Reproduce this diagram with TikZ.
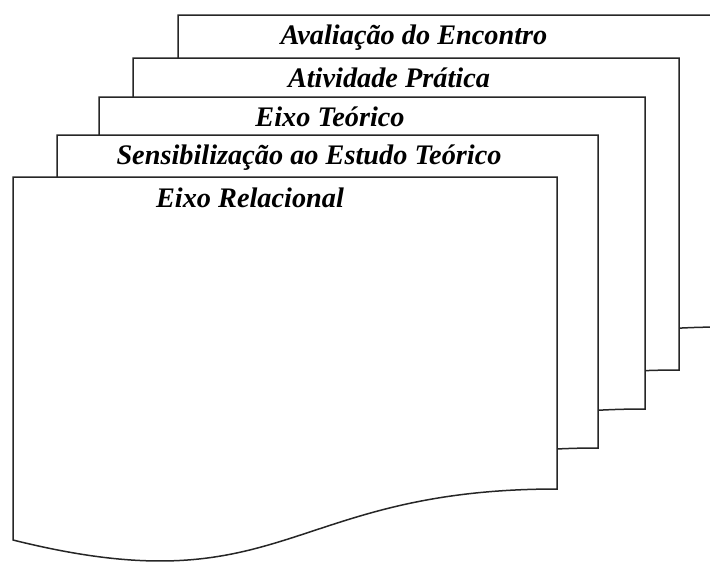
\documentclass[tikz,border=0pt]{standalone}
\usepackage{fontspec}
\setmainfont{Liberation Serif}
\usepackage{tikz}
\usetikzlibrary{calc}

\tikzset{
  folha/.style={draw=black!85,fill=white,line width=1.5pt,line join=miter},
  titulo/.style={anchor=base,inner sep=0pt,font=\fontsize{28.3}{30}\selectfont\bfseries\itshape}
}

\begin{document}
\begin{tikzpicture}[x=1pt,y=-1pt]

\useasboundingbox (0,0) rectangle (710,563);

% folhas, de tras para a frente
\draw[folha] (178,15) -- (724,15) -- (724,327) .. controls (451,327) and (451,446) .. (178,378) -- cycle;
\draw[folha] (133,58) -- (679,58) -- (679,370) .. controls (406,370) and (406,489) .. (133,421) -- cycle;
\draw[folha] (99,97) -- (645,97) -- (645,409) .. controls (372,409) and (372,528) .. (99,460) -- cycle;
\draw[folha] (57,135) -- (598,135) -- (598,448) .. controls (328,448) and (328,567) .. (57,498) -- cycle;
\draw[folha] (13,177) -- (557,177) -- (557,489) .. controls (285,489) and (285,608) .. (13,540) -- cycle;

  \node[titulo] (aval) at (414,44) {Avaliação do Encontro};
  \node[titulo] (ativ) at (389,87) {Atividade Prática};
  \node[titulo] (teor) at (330,126) {Eixo Teórico};
  \node[titulo] (sens) at (309,164) {Sensibilização ao Estudo Teórico};
  \node[titulo] (rela) at (250,207) {Eixo Relacional};

\end{tikzpicture}
\end{document}
